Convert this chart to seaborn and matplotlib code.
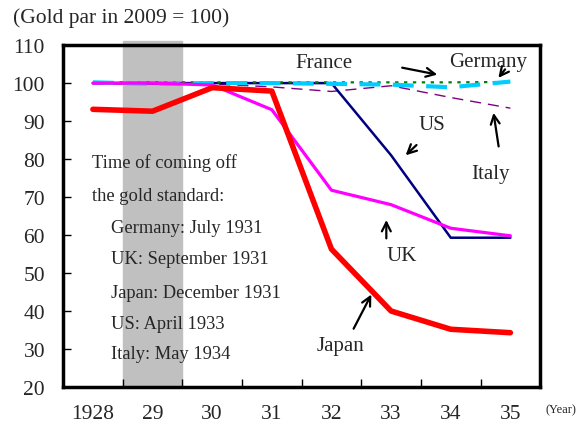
import pandas as pd
import seaborn as sns
import matplotlib.pyplot as plt

years = ["1928", "29", "30", "31", "32", "33", "34", "35"]
japan = [93.1, 92.6, 98.8, 97.9, 56.3, 40.0, 35.2, 34.3]
uk = [100.0, 100.0, 99.5, 93.0, 71.8, 68.0, 61.8, 59.8]
us = [100.0, 100.0, 100.0, 100.0, 100.0, 81.0, 59.3, 59.3]
france = [100.2, 100.2, 100.2, 100.2, 100.2, 100.2, 100.2, 100.3]
germany = [100.2, 99.8, 100.0, 100.0, 99.8, 99.6, 98.9, 100.4]
italy = [99.8, 99.8, 99.8, 99.0, 97.8, 99.3, 96.2, 93.4]

sns.set_style("white")
plt.rcParams["font.family"] = ["Liberation Serif", "DejaVu Serif"]

fig = plt.figure(figsize=(5.84, 4.35), dpi=100)
ax = fig.add_axes([0.108, 0.108, 0.817, 0.786])

pos = list(range(len(years)))
df = pd.DataFrame({"pos": pos, "Japan": japan, "UK": uk, "US": us,
                   "France": france, "Germany": germany, "Italy": italy})

# shaded band over 1929
ax.axvspan(0.5, 1.5, ymin=0, ymax=1.012, color="#c0c0c0", zorder=0, clip_on=False)

sns.lineplot(data=df, x="pos", y="Italy", ax=ax, color="#800080", lw=1.0,
             linestyle=(0, (8, 5)), zorder=3)
sns.lineplot(data=df, x="pos", y="France", ax=ax, color="#008000", lw=1.6,
             linestyle=(0, (1.5, 2.5)), zorder=4)
sns.lineplot(data=df, x="pos", y="US", ax=ax, color="#000080", lw=1.8, zorder=3)
sns.lineplot(data=df, x="pos", y="Germany", ax=ax, color="#00ccff", lw=3.0,
             linestyle=(0, (5, 3)), zorder=5)
sns.lineplot(data=df, x="pos", y="UK", ax=ax, color="#ff00ff", lw=2.3, zorder=6)
sns.lineplot(data=df, x="pos", y="Japan", ax=ax, color="#ff0000", lw=4.0, zorder=7)

ax.set_xlim(-0.5, 7.5)
ax.set_ylim(20, 110)
ax.set_xlabel("")
ax.set_ylabel("")
ax.set_xticks(pos)
ax.set_xticklabels(years)
ax.set_xticks([p + 0.5 for p in pos[:-1]], minor=True)
ax.set_yticks(range(20, 111, 10))
ax.tick_params(axis="x", which="major", length=0, pad=12, labelsize=15.5)
ax.tick_params(axis="x", which="minor", direction="in", length=6, width=1,
               bottom=True, color="black")
ax.tick_params(axis="y", direction="in", length=6, width=1, left=True,
               pad=13, labelsize=15.5, color="black")
for s in ax.spines.values():
    s.set_linewidth(2.5)
    s.set_color("black")

fig.text(0.022, 0.958, "(Gold par in 2009 = 100)", fontsize=15.5, va="center")
fig.text(0.96, 0.057, "(Year)", fontsize=9, va="center", ha="center")

notes = ["Time of coming off", "the gold standard:", "Germany: July 1931",
         "UK: September 1931", "Japan: December 1931", "US: April 1933",
         "Italy: May 1934"]
note_x = [-0.02, -0.02, 0.3, 0.3, 0.3, 0.3, 0.3]
note_y = [79.2, 70.3, 62.1, 53.7, 45.0, 36.8, 28.7]
for t, x, y in zip(notes, note_x, note_y):
    ax.text(x, y, t, fontsize=13.3, va="center", ha="left", zorder=8)

arrow = dict(arrowstyle="->", color="black", lw=1.6, mutation_scale=16)
ax.text(3.88, 105.3, "France", fontsize=15, ha="center", va="center")
ax.annotate("", xy=(5.82, 102.1), xytext=(5.14, 104.2), arrowprops=arrow)
ax.text(6.62, 105.8, "Germany", fontsize=15, ha="center", va="center")
ax.annotate("", xy=(6.77, 100.8), xytext=(6.94, 104.2), arrowprops=arrow)
ax.text(5.68, 89.2, "US", fontsize=15, ha="center", va="center")
ax.annotate("", xy=(5.21, 80.5), xytext=(5.46, 84.2), arrowprops=arrow)
ax.text(6.67, 76.1, "Italy", fontsize=15, ha="center", va="center")
ax.annotate("", xy=(6.71, 92.9), xytext=(6.81, 82.6), arrowprops=arrow)
ax.text(5.18, 54.5, "UK", fontsize=15, ha="center", va="center")
ax.annotate("", xy=(4.92, 64.7), xytext=(4.92, 58.4), arrowprops=arrow)
ax.text(4.15, 30.8, "Japan", fontsize=15, ha="center", va="center")
ax.annotate("", xy=(4.69, 45.0), xytext=(4.35, 34.7), arrowprops=arrow)

fig.savefig("out.png", dpi=100)
